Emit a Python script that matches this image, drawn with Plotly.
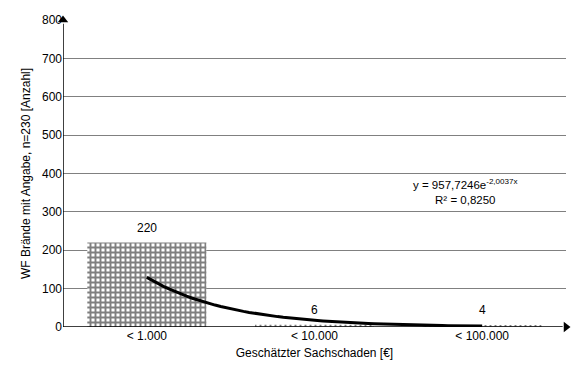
import numpy as np
import plotly.graph_objects as go

# Categories and counts
categories = ["< 1.000", "< 10.000", "< 100.000"]
counts = [220, 6, 4]
x_pos = [1, 2, 3]

# Exponential trendline coefficients (y = a * e^(b*x))
trend_a = 957.7246
trend_b = -2.0037
trend_r2 = 0.8250

y_ticks = [0, 100, 200, 300, 400, 500, 600, 700, 800]

font_family = "Liberation Sans, Arial, sans-serif"

tx = np.linspace(1, 3, 60)
ty = trend_a * np.exp(trend_b * tx)

fig = go.Figure()
fig.add_trace(go.Bar(
    x=x_pos, y=counts, width=0.71,
    marker=dict(color="white", line=dict(width=0),
                pattern=dict(shape="+", fgcolor="black", bgcolor="white",
                             size=5, solidity=0.62, fillmode="overlay")),
    showlegend=False,
))
fig.add_trace(go.Scatter(
    x=tx, y=ty, mode="lines",
    line=dict(color="black", width=3), showlegend=False,
))

# Value labels above bars
for xp, c in zip(x_pos, counts):
    fig.add_annotation(x=xp, y=c, xref="x", yref="y", text=str(c),
                       showarrow=False, yanchor="bottom", yshift=6,
                       font=dict(size=12, color="black", family=font_family))

# Trendline equation
fig.add_annotation(
    x=0.8, y=0.44, xref="paper", yref="paper", xanchor="center", yanchor="middle",
    text=("y = 957,7246e<sup>-2,0037x</sup><br>R² = 0,8250"),
    showarrow=False, align="center",
    font=dict(size=11.5, color="black", family=font_family),
)

# Axis lines with arrow heads
fig.add_trace(go.Scatter(x=[0.5, 0.5], y=[0, 790], mode="lines",
                         line=dict(color="black", width=1.5),
                         showlegend=False, hoverinfo="skip", cliponaxis=False))
fig.add_trace(go.Scatter(x=[0.5, 3.48], y=[0, 0], mode="lines",
                         line=dict(color="black", width=1.5),
                         showlegend=False, hoverinfo="skip", cliponaxis=False))
fig.add_trace(go.Scatter(x=[0.5], y=[800], mode="markers",
                         marker=dict(symbol="triangle-up", size=9, color="black"),
                         showlegend=False, hoverinfo="skip", cliponaxis=False))
fig.add_trace(go.Scatter(x=[3.5], y=[0], mode="markers",
                         marker=dict(symbol="triangle-right", size=9, color="black"),
                         showlegend=False, hoverinfo="skip", cliponaxis=False))

fig.update_layout(
    width=571, height=372,
    margin=dict(l=63, r=5, t=20, b=45),
    plot_bgcolor="white", paper_bgcolor="white",
    font=dict(family=font_family, size=12, color="black"),
    xaxis=dict(
        range=[0.5, 3.5], tickvals=x_pos, ticktext=categories,
        showgrid=False, zeroline=False, showline=False, ticks="",
        tickfont=dict(size=12, color="black"),
        title=dict(text="Geschätzter Sachschaden [€]", font=dict(size=12, color="black"), standoff=6),
    ),
    yaxis=dict(
        range=[0, 800], tickvals=y_ticks,
        showgrid=True, gridcolor="#808080", gridwidth=1,
        zeroline=False, showline=False, ticks="",
        tickfont=dict(size=12, color="black"),
        title=dict(text="WF Brände mit Angabe, n=230 [Anzahl]", font=dict(size=12, color="black"), standoff=8),
    ),
)

fig.write_html("out.html")
